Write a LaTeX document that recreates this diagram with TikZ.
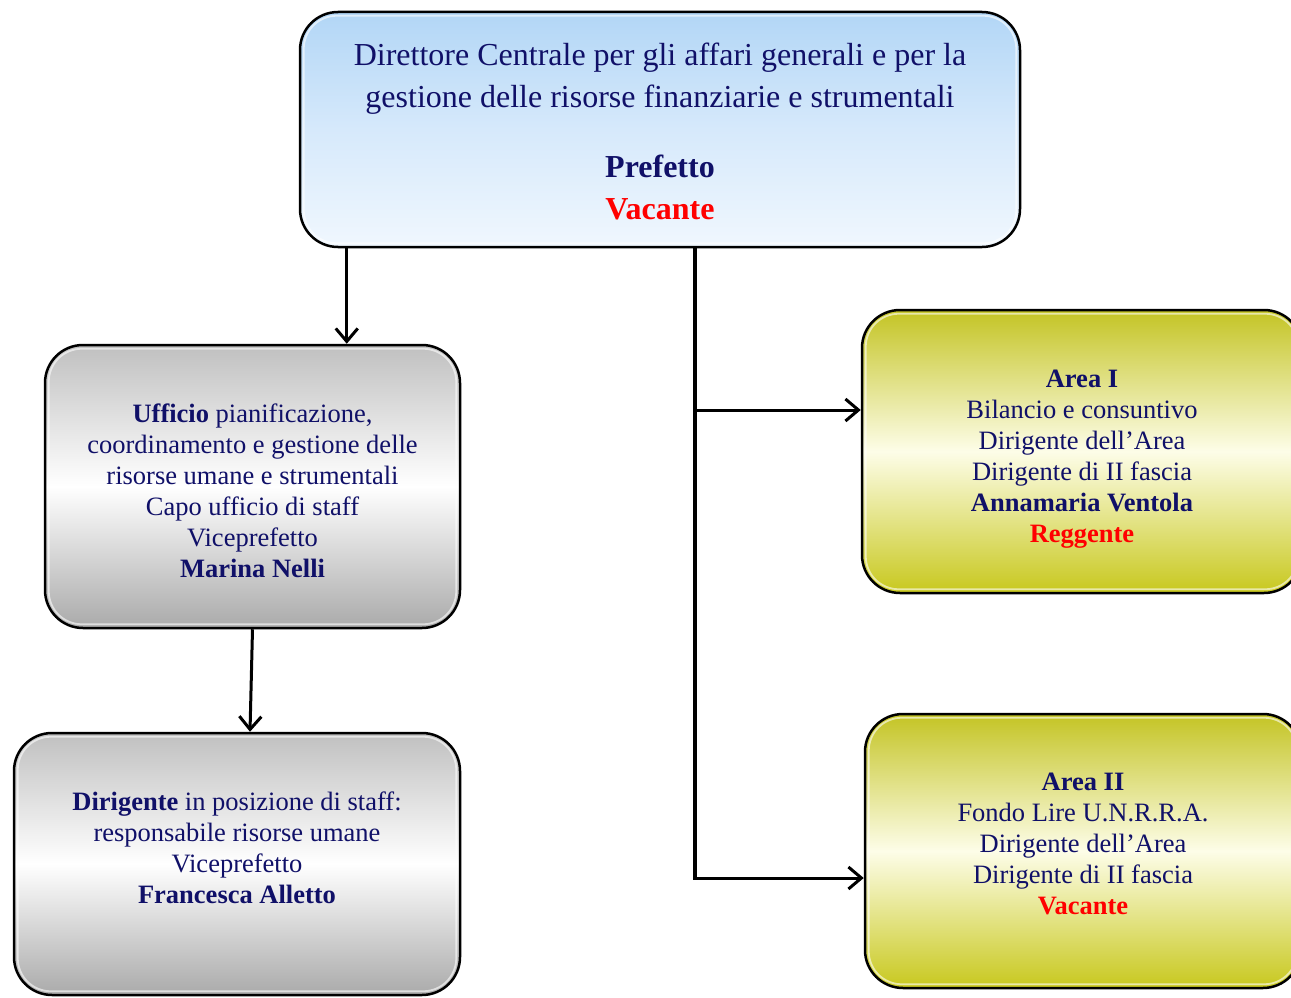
\documentclass[tikz,border=0pt]{standalone}
\usepackage{fontspec}
\setmainfont{Liberation Serif}
\usepackage{xcolor}
\usetikzlibrary{arrows.meta, positioning, calc}

\definecolor{navytext}{RGB}{16,16,104}
\definecolor{blueTop}{RGB}{178,214,246}
\definecolor{blueMid}{RGB}{214,233,251}
\definecolor{blueBot}{RGB}{240,247,254}
\definecolor{grayTop}{RGB}{192,192,192}
\definecolor{grayBot}{RGB}{170,170,170}
\definecolor{oliveTop}{RGB}{196,196,36}
\definecolor{oliveMid}{RGB}{253,253,232}
\definecolor{oliveBot}{RGB}{200,200,30}

\begin{document}
\begin{tikzpicture}[
    x=1pt, y=1pt,
    every node/.style={font=\fontsize{26.5}{31}\selectfont, text=navytext},
    orgbox/.style={rectangle, rounded corners=38pt, draw=black, line width=2.5pt,
        inner sep=0pt},
    bluebox/.style={orgbox, top color=blueTop, bottom color=blueBot, middle color=blueMid},
    graybox/.style={orgbox, top color=grayTop, bottom color=grayBot, middle color=white},
    olivebox/.style={orgbox, top color=oliveTop, bottom color=oliveBot, middle color=oliveMid},
    boxtext/.style={align=center, inner sep=0pt},
    bevel/.style={draw=white, line width=1.8pt, opacity=0.6, rounded corners=33pt},
    arrow/.style={-{Straight Barb[length=13pt, width=22pt]}, line width=3pt},
    trunkline/.style={line width=4.5pt},
]
\clip (0,0) rectangle (1291,-998);

% --- Boxes ---
\node[bluebox, minimum width=720pt, minimum height=235pt] (dirett) at (660,-129.5) {};
\node[graybox, minimum width=415pt, minimum height=283pt] (ufficio) at (252.5,-486.5) {};
\node[graybox, minimum width=446pt, minimum height=262pt] (staff) at (237,-864) {};
\node[olivebox, minimum width=440pt, minimum height=283pt] (areaI) at (1082,-451.5) {};
\node[olivebox, minimum width=436pt, minimum height=274pt] (areaII) at (1083,-851) {};

% --- Bevel highlights ---
\foreach \b in {dirett, ufficio, staff, areaI, areaII}
    \draw[bevel] ([shift={(5pt,-5pt)}]\b.north west) rectangle ([shift={(-5pt,5pt)}]\b.south east);

% --- Texts ---
\node[boxtext, font=\fontsize{32}{42}\selectfont] (dirett text) at ([yshift=-2pt]dirett.center)
    {Direttore Centrale per gli affari generali e per la\\
     gestione delle risorse finanziarie e strumentali\\[28pt]
     \textbf{Prefetto}\\
     \textcolor{red}{\textbf{Vacante}}};

\node[boxtext] (ufficio text) at ([yshift=-4pt]ufficio.center)
    {\textbf{Ufficio} pianificazione,\\
     coordinamento e gestione delle\\
     risorse umane e strumentali\\
     Capo ufficio di staff\\
     Viceprefetto\\
     \textbf{Marina Nelli}};

\node[boxtext] (staff text) at ([yshift=16pt]staff.center)
    {\textbf{Dirigente} in posizione di staff:\\
     responsabile risorse umane\\
     Viceprefetto\\
     \textbf{Francesca Alletto}};

\node[boxtext] (areaI text) at ([yshift=-8pt]areaI.center)
    {\textbf{Area I}\\
     Bilancio e consuntivo\\
     Dirigente dell'Area\\
     Dirigente di II fascia\\
     \textbf{Annamaria Ventola}\\
     \textcolor{red}{\textbf{Reggente}}};

\node[boxtext] (areaII text) at ([yshift=7pt]areaII.center)
    {\textbf{Area II}\\
     Fondo Lire U.N.R.R.A.\\
     Dirigente dell'Area\\
     Dirigente di II fascia\\
     \textcolor{red}{\textbf{Vacante}}};

% --- Connectors ---
\coordinate (jI) at (695,-410);
\coordinate (jII) at (695,-878);

\draw[arrow] ([xshift=48pt]dirett.south west) -- ([xshift=48pt]dirett.south west |- ufficio.north);
\draw[arrow] (ufficio.south) -- ([xshift=13pt]staff.north);
\draw[trunkline] (dirett.south -| jI) -- ([yshift=-2pt]jII);
\draw[arrow] (jI) -- (jI -| areaI.west);
\draw[arrow] (jII) -- (jII -| areaII.west);

\end{tikzpicture}
\end{document}
